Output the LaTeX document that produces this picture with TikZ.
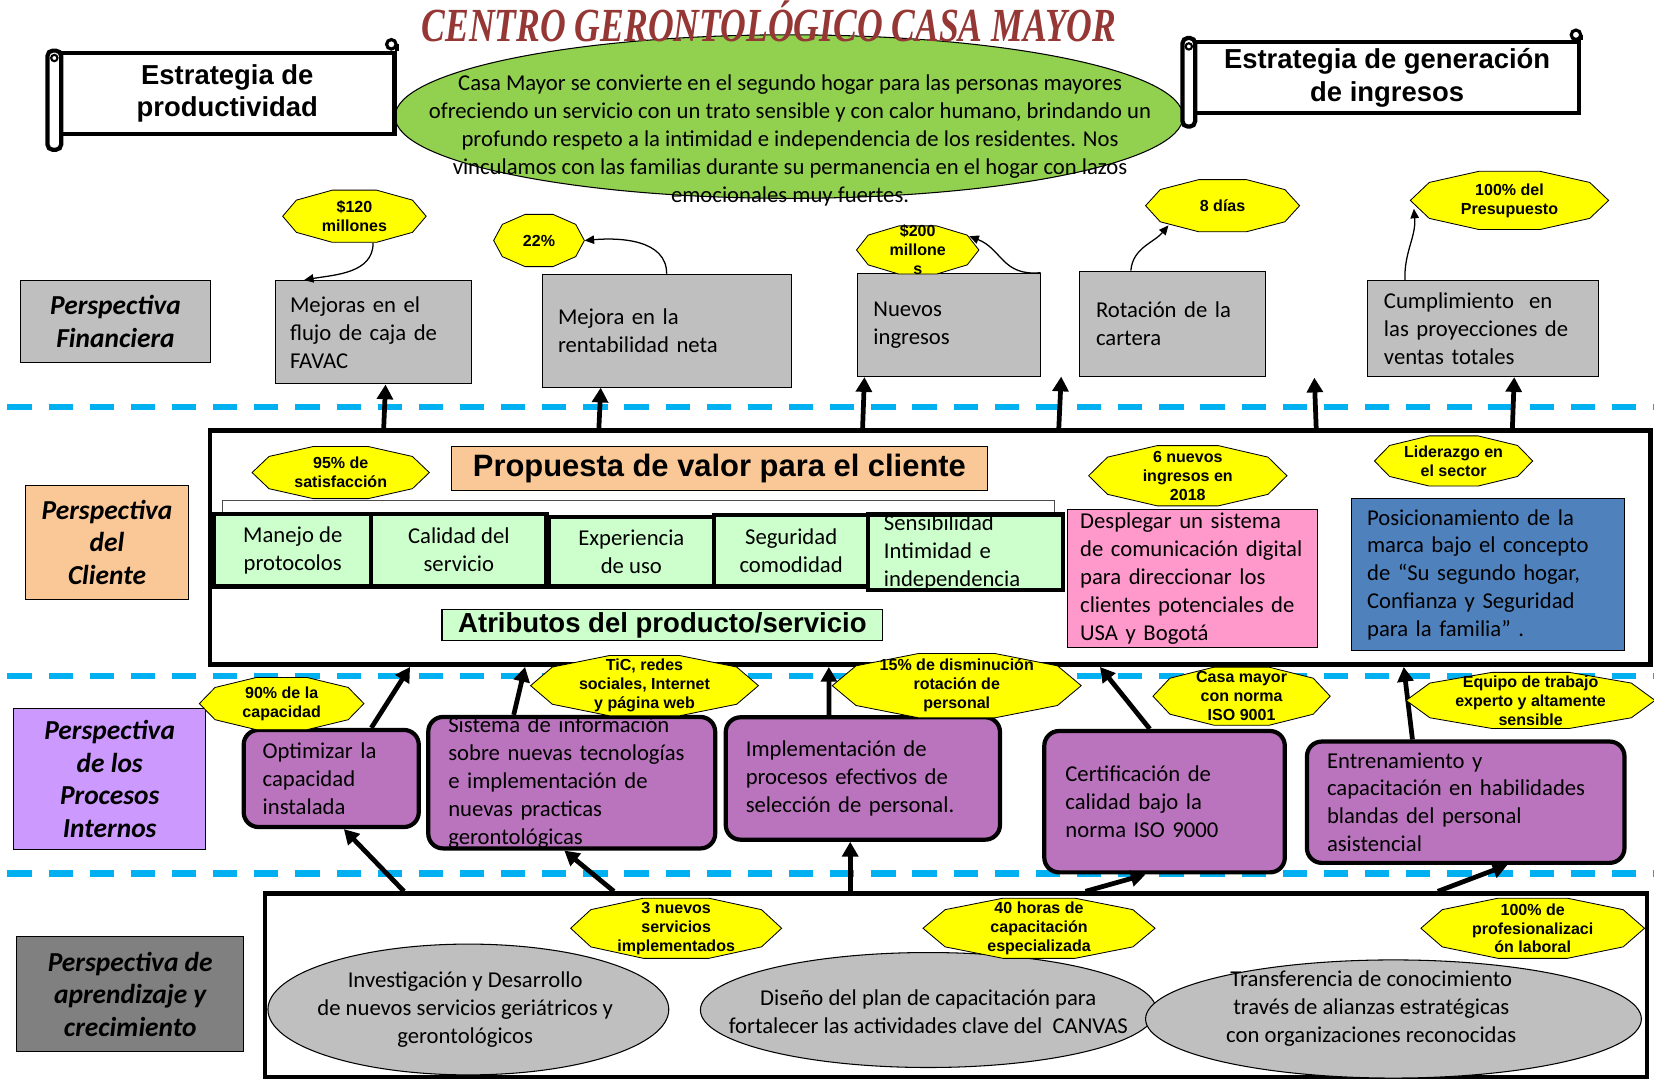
\documentclass[tikz,border=0pt]{standalone}
\usepackage{fontspec}
\setmainfont{Carlito}
\newfontfamily\arialfont{Liberation Sans}
\newfontfamily\seriffont{Liberation Serif}[FakeStretch=0.75]
\usetikzlibrary{arrows.meta,shapes.geometric}

\definecolor{boxgray}{HTML}{BFBFBF}
\definecolor{tagyellow}{HTML}{FFFF00}
\definecolor{misgreen}{HTML}{92D050}
\definecolor{cellgreen}{HTML}{CCFFCC}
\definecolor{clientorange}{HTML}{FAC796}
\definecolor{pinkbox}{HTML}{FF99CC}
\definecolor{bluebox}{HTML}{4F81BD}
\definecolor{lilac}{HTML}{CC99FF}
\definecolor{procpurple}{HTML}{BA74BD}
\definecolor{darkgray}{HTML}{808080}
\definecolor{lanecyan}{HTML}{00B0F0}
\definecolor{titlered}{HTML}{953735}

\newcommand{\txtfont}{\fontsize{21.5}{26.5}\selectfont}
\newcommand{\lblfont}{\fontsize{26}{31}\selectfont\bfseries\itshape}
\newcommand{\tagfont}{\arialfont\bfseries\fontsize{15.2}{18}\selectfont}
\newcommand{\headfont}{\arialfont\bfseries\fontsize{26}{31}\selectfont}

% yellow goal tag: name, x, y, rx, ry, text
\newcommand{\metatag}[6]{%
  \filldraw[fill=tagyellow, line width=0.8pt, shift={(#2,#3)}]
    (0:#4 and #5) \foreach \a in {36,72,...,324} { -- (\a:#4 and #5) } -- cycle;
  \node[tag, minimum width=2*#4pt, minimum height=2*#5pt] (#1) at (#2,#3) {};
  \node[tagtxt] (#1txt) at (#1) {#6};
}

\begin{document}
\begin{tikzpicture}[x=1pt,y=-1pt,
  gbox/.style={draw, fill=boxgray, line width=1pt, inner sep=0pt, font=\txtfont, align=left},
  persp/.style={draw, line width=1pt, inner sep=0pt, font=\lblfont, align=center},
  cell/.style={draw, fill=cellgreen, line width=4pt, inner sep=0pt, font=\txtfont, align=center},
  proc/.style={draw, fill=procpurple, line width=4pt, rounded corners=14pt, inner sep=0pt, font=\txtfont, align=left},
  tag/.style={ellipse, inner sep=0pt},
  tagtxt/.style={inner sep=0pt, font=\tagfont, align=center},
  oval/.style={ellipse, draw, fill=boxgray, line width=1pt, inner sep=0pt},
  ovaltxt/.style={inner sep=0pt, font=\txtfont, align=center},
  lane/.style={draw=lanecyan, line width=6pt, dash pattern=on 23pt off 16pt},
  bigarrow/.style={line width=4.5pt, -{Triangle[length=14pt,width=15pt]}},
  thinarrow/.style={line width=1.2pt, -{Triangle[length=9pt,width=8pt]}},
  scrollline/.style={line width=4pt, fill=white}]
\useasboundingbox (0,0) rectangle (1568,1024);

% lanes
\draw[lane] (7,386) -- (1568,386);
\draw[lane] (7,641) -- (1568,641);
\draw[lane] (7,828) -- (1568,828);

% mission and strategies
\node[ellipse, draw, fill=misgreen, line width=1pt, minimum width=747pt, minimum height=155pt] (mision) at (748,110.5) {};
\node[font=\txtfont, align=center] (misiontxt) at (749,133) {Casa Mayor se convierte en el segundo hogar para las personas mayores\\
ofreciendo un servicio con un trato sensible y con calor humano, brindando un\\
profundo respeto a la intimidad e independencia de los residentes. Nos\\
vinculamos con las familias durante su permanencia en el hogar con lazos\\
emocionales muy fuertes.};
\node[anchor=base, text=titlered, font=\seriffont\bfseries\itshape\fontsize{45}{50}\selectfont] (titulo) at (729,39) {CENTRO GERONTOLÓGICO CASA MAYOR};

\node[draw, scrollline, minimum width=317pt, minimum height=77pt, inner sep=0pt, font=\headfont, align=center] (sprod) at (215.5,88.5) {Estrategia de\\productividad};
\draw[scrollline, rounded corners=5pt] ([xshift=-10pt]sprod.north west) rectangle ([xshift=3pt,yshift=-13pt]sprod.south west);
\draw[line width=2pt] ([xshift=-3.5pt,yshift=-7pt]sprod.north west) circle (3pt);
\draw[line width=4pt] (sprod.north east) -- ([yshift=6pt]sprod.north east);
\draw[line width=3pt] ([xshift=-5pt,yshift=6pt]sprod.north east) circle (4.5pt);

\node[draw, scrollline, minimum width=364pt, minimum height=67pt, inner sep=0pt, font=\headfont, align=center] (sing) at (1315,73.5) {Estrategia de generación\\de ingresos};
\draw[scrollline, rounded corners=5pt] ([xshift=-10pt,yshift=2pt]sing.north west) rectangle ([xshift=2pt,yshift=-11pt]sing.south west);
\draw[line width=2pt] ([xshift=-4pt,yshift=-6pt]sing.north west) circle (3pt);
\draw[line width=4pt] (sing.north east) -- ([yshift=5pt]sing.north east);
\draw[line width=3pt] ([xshift=-5pt,yshift=5pt]sing.north east) circle (4.5pt);

% perspectiva financiera
\node[persp, fill=boxgray, minimum width=181pt, minimum height=78pt] (pfin) at (109.5,305) {Perspectiva\\Financiera};
\node[gbox, minimum width=186pt, minimum height=98pt, text width=158pt] (flujo) at (354,315) {Mejoras en el\\flujo de caja de\\FAVAC};
\node[gbox, minimum width=236pt, minimum height=107pt, text width=206pt] (rent) at (632,313.5) {Mejora en la\\rentabilidad neta};
\node[gbox, minimum width=173pt, minimum height=98pt, text width=143pt] (nuevos) at (899.5,308) {Nuevos\\ingresos};
\node[gbox, minimum width=177pt, minimum height=100pt, text width=145pt] (rot) at (1111.5,307) {Rotación de la\\cartera};
\node[gbox, minimum width=219pt, minimum height=91pt, text width=187pt] (cum) at (1405.5,311.5) {Cumplimiento~ en\\las proyecciones de\\ventas totales};
\coordinate (fa) at (1006,357);
\coordinate (fb) at (1246,358);

% perspectiva del cliente
\node[persp, fill=clientorange, minimum width=155pt, minimum height=108pt] (pcli) at (101.5,514) {Perspectiva\\del\\Cliente};
\node[draw, fill=white, line width=4.5pt, minimum width=1366pt, minimum height=222pt] (client) at (882,519) {};
\node[draw, fill=clientorange, line width=1pt, minimum width=508pt, minimum height=42pt, inner sep=0pt, font=\arialfont\bfseries\fontsize{29.3}{33}\selectfont] (prop) at (682,444) {Propuesta de valor para el cliente};
\draw[line width=0.8pt, black!70] (211,490) |- (1000,474) -- (1000,490);
\node[cell, minimum width=149pt, minimum height=69pt] (manejo) at (277.5,521.5) {Manejo de\\protocolos};
\node[cell, minimum width=166pt, minimum height=69pt] (calidad) at (435,521.5) {Calidad del\\servicio};
\node[cell, minimum width=157pt, minimum height=66pt] (exper) at (598.5,523) {Experiencia\\de uso};
\node[cell, minimum width=146pt, minimum height=68pt] (segur) at (750,522) {Seguridad\\comodidad};
\node[cell, minimum width=185pt, minimum height=71pt, text width=155pt, align=left] (sensib) at (915.5,523.5) {Sensibilidad\\Intimidad e\\independencia};
\node[draw, fill=cellgreen, line width=1pt, minimum width=418pt, minimum height=29pt, inner sep=0pt, font=\arialfont\bfseries\fontsize{26.1}{29}\selectfont] (attr) at (628,592.5) {Atributos del producto/servicio};
\node[gbox, fill=pinkbox, minimum width=237pt, minimum height=131pt, text width=213pt] (digital) at (1130.5,548.5) {Desplegar un sistema\\de comunicación digital\\para direccionar los\\clientes potenciales de\\USA y Bogotá};
\node[gbox, fill=bluebox, minimum width=259pt, minimum height=144pt, text width=229pt] (marca) at (1410.5,545) {Posicionamiento de la\\marca bajo el concepto\\de “Su segundo hogar,\\Confianza y Seguridad\\para la familia” .};

% perspectiva de los procesos internos
\node[persp, fill=lilac, minimum width=182pt, minimum height=133pt] (ppro) at (104,738.5) {Perspectiva\\de los\\Procesos\\Internos};
\node[proc, minimum width=166pt, minimum height=92pt, text width=130pt] (opt) at (314,738) {Optimizar la\\capacidad\\instalada};
\node[proc, minimum width=272pt, minimum height=124pt, text width=234pt] (sis) at (542,742) {Sistema de información\\sobre nuevas tecnologías\\e implementación de\\nuevas practicas\\gerontológicas};
\node[proc, minimum width=260pt, minimum height=116pt, text width=222pt] (imp) at (818,738) {Implementación de\\procesos efectivos de\\selección de personal.};
\node[proc, minimum width=228pt, minimum height=134pt, text width=188pt] (cert) at (1104,760) {Certificación de\\calidad bajo la\\norma ISO 9000};
\node[proc, minimum width=301pt, minimum height=115pt, text width=263pt] (ent) at (1389.5,760.5) {Entrenamiento y\\capacitación en habilidades\\blandas del personal\\asistencial};

% perspectiva de aprendizaje y crecimiento
\node[persp, fill=darkgray, minimum width=215pt, minimum height=109pt] (papr) at (123.5,942.5) {Perspectiva de\\aprendizaje y\\crecimiento};
\node[draw, line width=4pt, minimum width=1310pt, minimum height=174pt] (learn) at (906,934) {};
\node[oval, minimum width=380pt, minimum height=124pt] (inv) at (444,957) {};
\node[ovaltxt] (invtxt) at ([xshift=-3pt]inv.center) {Investigación y Desarrollo\\de nuevos servicios geriátricos y\\gerontológicos};
\node[oval, minimum width=432pt, minimum height=109pt] (dis) at (880,957.5) {};
\node[ovaltxt] (distxt) at ([yshift=-2pt]dis.center) {Diseño del plan de capacitación para\\fortalecer las actividades clave del~ CANVAS};
\node[oval, minimum width=470pt, minimum height=112pt] (tra) at (1321,966) {};
\node[ovaltxt] (tratxt) at ([xshift=-21pt,yshift=10pt]tra.center) {Transferencia de conocimiento\\través de alianzas estratégicas\\con organizaciones reconocidas};

% arrows
\draw[bigarrow] ([xshift=167pt]client.north west) -- ([xshift=105pt]flujo.south west);
\draw[bigarrow] ([xshift=371pt]client.north west) -- ([xshift=56pt]rent.south west);
\draw[bigarrow] ([xshift=621pt]client.north west) -- ([xshift=7pt]nuevos.south west);
\draw[bigarrow] ([xshift=807pt]client.north west) -- (fa);
\draw[bigarrow] ([xshift=1051pt]client.north west) -- (fb);
\draw[bigarrow] ([xshift=1237pt]client.north west) -- ([xshift=140pt]cum.south west);

\draw[bigarrow] ([xshift=123pt]opt.north west) -- ([xshift=192pt]client.south west);
\draw[bigarrow] ([xshift=83pt]sis.north west) -- ([xshift=301pt]client.south west);
\draw[bigarrow] ([xshift=100pt]imp.north west) -- ([xshift=589pt]client.south west);
\draw[bigarrow] ([xshift=102pt]cert.north west) -- ([xshift=846pt]client.south west);
\draw[bigarrow] ([xshift=102pt]ent.north west) -- ([xshift=1134pt]client.south west);

\draw[bigarrow] ([xshift=134pt]learn.north west) -- ([xshift=97pt]opt.south west);
\draw[bigarrow] ([xshift=333pt]learn.north west) -- ([xshift=131pt]sis.south west);
\draw[bigarrow] ([xshift=557pt]learn.north west) -- ([xshift=120pt]imp.south west);
\draw[bigarrow] ([xshift=780pt]learn.north west) -- ([xshift=98pt]cert.south west);
\draw[bigarrow] ([xshift=1114pt]learn.north west) -- ([xshift=192pt]ent.south west);

% goal tags
\metatag{t120}{336}{205}{68}{26}{\$120\\millones}
\metatag{t22}{511}{228}{43}{26}{22\%}
\metatag{t200}{870}{237}{58}{24}{\$200\\millone\\s}
\metatag{t8}{1159}{195}{73}{26}{8 días}
\metatag{t100}{1431}{190}{94}{29}{100\% del\\Presupuesto}
\metatag{t95}{323}{448}{84}{26}{95\% de\\satisfacción}
\metatag{t6}{1126}{451}{94}{30}{6 nuevos\\ingresos en\\2018}
\metatag{tlid}{1378}{437}{75}{25}{Liderazgo en\\el sector}
\metatag{t90}{267}{667}{78}{26}{90\% de la\\capacidad}
\metatag{ttic}{611}{650}{108}{30}{TiC, redes\\sociales, Internet\\y página web}
\metatag{t15}{907}{650}{118}{32}{15\% de disminución\\rotación de\\personal}
\metatag{tiso}{1177}{660}{84}{29}{Casa mayor\\con norma\\ISO 9001}
\metatag{teq}{1451}{664}{118}{28}{Equipo de trabajo\\experto y altamente\\sensible}
\metatag{t3}{641}{880}{100}{30}{3 nuevos\\servicios\\implementados}
\metatag{t40}{985}{880}{110}{30}{40 horas de\\capacitación\\especializada}
\metatag{tprof}{1453}{880}{106}{30}{100\% de\\profesionalizaci\\ón laboral}

\draw[thinarrow] (t120.-55) to[out=-90,in=10] (flujo.143);
\draw[thinarrow] (rent.north) to[out=90,in=5] (t22.east);
\draw[thinarrow] (nuevos.north east) .. controls (950,262) and (950,236) .. (t200.15);
\draw[thinarrow] (rot.128) to[out=85,in=-130] (t8.200);
\draw[thinarrow] (cum.148) to[out=92,in=-85] (t100.185);
\end{tikzpicture}
\end{document}
